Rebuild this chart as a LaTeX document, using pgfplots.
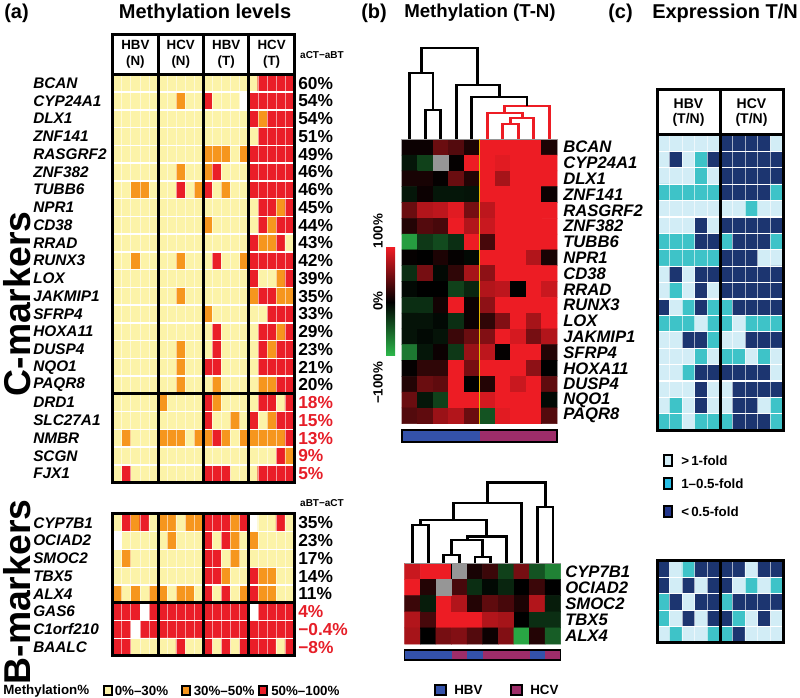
\documentclass[border=0pt]{standalone}
\usepackage{pgfplots}
\pgfplotsset{compat=1.18}
\usepackage{pgfplotstable}
\usepackage{fontspec}
\setmainfont{Liberation Sans}

\definecolor{mY}{RGB}{252,243,168}
\definecolor{mO}{RGB}{246,150,30}
\definecolor{mR}{RGB}{234,30,40}
\definecolor{eL}{RGB}{210,237,246}
\definecolor{eT}{RGB}{62,195,200}
\definecolor{eLeg}{RGB}{40,190,230}
\definecolor{eN}{RGB}{28,52,112}
\definecolor{eNleg}{RGB}{35,55,140}
\definecolor{hbv}{RGB}{52,82,170}
\definecolor{hcv}{RGB}{158,45,105}
\definecolor{pred}{RGB}{230,30,40}
\definecolor{dred}{RGB}{237,28,36}
\definecolor{lgreen}{RGB}{45,185,75}
\definecolor{ylw}{RGB}{225,185,0}
\definecolor{dgray}{RGB}{150,150,150}

\newcommand\titlefont{\fontsize{15}{18}\selectfont\bfseries}
\newcommand\titlefontb{\fontsize{14}{17}\selectfont\bfseries}
\newcommand\genefont{\fontsize{11.5}{14}\selectfont\bfseries\itshape}
\newcommand\genefontb{\fontsize{12.5}{14}\selectfont\bfseries\itshape}
\newcommand\pctfont{\fontsize{13}{15}\selectfont\bfseries}
\newcommand\hdfont{\fontsize{10}{12}\selectfont\bfseries}
\newcommand\legfont{\fontsize{10}{12}\selectfont\bfseries}

\pgfplotsset{pix/.style={x=0.75pt, y=0.75pt, y dir=reverse,
  xmin=0, xmax=800, ymin=0, ymax=698, hide axis, clip=false,
  anchor=south west, at={(0pt,0pt)}},
  dend/.style={black, line width=2.1pt},
  dendr/.style={dred, line width=2.1pt}}

% (a) methylation class: 0 = 0-30%, 1 = 30-50%, 2 = 50-100%, 3 = no data
% columns: HBV(N) x5, HCV(N) x5, HBV(T) x5, HCV(T) x5
\pgfplotstableread[row sep=\\]{c\\
0\\0\\0\\0\\0\\ 0\\0\\0\\0\\0\\ 0\\0\\0\\0\\0\\ 0\\2\\2\\2\\2\\
0\\0\\0\\0\\0\\ 0\\0\\1\\0\\0\\ 2\\0\\0\\0\\3\\ 2\\2\\2\\2\\2\\
0\\0\\0\\0\\0\\ 0\\0\\0\\0\\0\\ 0\\0\\0\\0\\0\\ 2\\1\\2\\2\\2\\
0\\0\\0\\0\\0\\ 0\\0\\0\\0\\0\\ 0\\0\\0\\0\\0\\ 0\\2\\2\\2\\2\\
0\\0\\0\\0\\0\\ 0\\0\\0\\0\\0\\ 1\\1\\1\\0\\1\\ 2\\2\\2\\2\\2\\
0\\0\\0\\0\\0\\ 0\\0\\1\\0\\0\\ 1\\2\\0\\0\\0\\ 2\\2\\2\\2\\2\\
0\\0\\1\\1\\0\\ 0\\0\\2\\0\\1\\ 2\\0\\1\\0\\0\\ 2\\2\\2\\2\\2\\
0\\0\\0\\0\\0\\ 0\\0\\0\\0\\0\\ 0\\0\\0\\0\\0\\ 0\\2\\2\\1\\2\\
0\\0\\0\\0\\0\\ 0\\0\\0\\0\\0\\ 1\\0\\0\\0\\0\\ 0\\2\\1\\2\\2\\
0\\0\\0\\0\\0\\ 0\\0\\0\\0\\0\\ 0\\0\\0\\0\\0\\ 2\\1\\1\\2\\0\\
0\\0\\1\\0\\0\\ 0\\0\\1\\0\\0\\ 0\\2\\0\\0\\1\\ 2\\2\\2\\2\\2\\
0\\0\\0\\0\\0\\ 0\\0\\0\\0\\0\\ 0\\0\\0\\0\\0\\ 2\\0\\0\\1\\2\\
0\\0\\0\\0\\0\\ 0\\0\\1\\0\\0\\ 0\\0\\0\\0\\0\\ 1\\2\\2\\1\\1\\
0\\0\\0\\0\\0\\ 0\\0\\0\\0\\0\\ 1\\0\\0\\0\\0\\ 0\\0\\2\\2\\2\\
0\\0\\0\\0\\0\\ 0\\0\\0\\0\\0\\ 0\\2\\0\\0\\0\\ 0\\2\\2\\1\\2\\
0\\0\\0\\0\\0\\ 0\\0\\1\\0\\0\\ 0\\2\\0\\0\\0\\ 0\\2\\1\\2\\2\\
0\\0\\0\\0\\0\\ 0\\0\\1\\0\\0\\ 2\\2\\0\\0\\0\\ 0\\2\\2\\2\\2\\
0\\0\\0\\0\\0\\ 0\\0\\1\\0\\0\\ 0\\1\\0\\0\\0\\ 0\\1\\1\\2\\2\\
0\\0\\0\\0\\0\\ 1\\0\\0\\0\\0\\ 2\\1\\0\\0\\0\\ 0\\2\\2\\0\\2\\
0\\0\\0\\0\\0\\ 0\\0\\0\\0\\0\\ 2\\0\\0\\1\\0\\ 2\\0\\1\\2\\2\\
0\\1\\0\\0\\0\\ 1\\1\\1\\0\\1\\ 1\\2\\1\\0\\1\\ 1\\1\\1\\1\\2\\
0\\0\\0\\0\\0\\ 0\\0\\0\\0\\0\\ 0\\0\\0\\0\\0\\ 0\\0\\0\\2\\1\\
0\\2\\0\\0\\0\\ 0\\0\\0\\0\\0\\ 2\\2\\2\\0\\0\\ 0\\2\\2\\2\\2\\
}\methC

\pgfplotstableread[row sep=\\]{c\\
0\\2\\1\\2\\0\\ 1\\1\\0\\1\\1\\ 2\\2\\2\\1\\2\\ 3\\0\\0\\2\\0\\
3\\0\\0\\0\\0\\ 0\\1\\0\\0\\0\\ 2\\0\\2\\1\\0\\ 1\\0\\0\\0\\0\\
0\\1\\0\\0\\0\\ 0\\0\\0\\0\\0\\ 2\\2\\0\\1\\0\\ 0\\0\\0\\0\\0\\
0\\0\\0\\0\\0\\ 0\\0\\0\\0\\0\\ 2\\2\\1\\0\\0\\ 2\\1\\1\\0\\0\\
1\\0\\1\\0\\1\\ 1\\0\\1\\1\\0\\ 2\\0\\2\\0\\1\\ 2\\1\\1\\0\\0\\
2\\2\\2\\3\\2\\ 2\\2\\2\\2\\2\\ 2\\2\\2\\2\\2\\ 3\\2\\2\\2\\2\\
2\\2\\3\\2\\2\\ 2\\2\\2\\2\\2\\ 2\\2\\2\\2\\2\\ 2\\2\\2\\2\\2\\
2\\2\\0\\0\\0\\ 0\\0\\2\\0\\0\\ 2\\0\\2\\0\\2\\ 2\\2\\2\\0\\2\\
}\methB

% (c) expression class: 4 = >1-fold, 5 = 1-0.5-fold, 6 = <0.5-fold
\pgfplotstableread[row sep=\\]{c\\
4\\4\\4\\4\\4\\ 6\\6\\6\\6\\4\\
4\\6\\4\\5\\6\\ 6\\6\\6\\6\\6\\
4\\4\\4\\5\\4\\ 6\\6\\6\\6\\6\\
5\\5\\5\\5\\5\\ 6\\6\\6\\6\\5\\
4\\4\\4\\4\\4\\ 4\\4\\5\\4\\4\\
4\\4\\4\\6\\4\\ 6\\6\\6\\6\\6\\
5\\5\\5\\6\\6\\ 5\\6\\6\\6\\5\\
5\\5\\5\\5\\5\\ 6\\6\\6\\4\\4\\
4\\6\\4\\6\\6\\ 6\\6\\6\\6\\6\\
4\\5\\4\\6\\4\\ 6\\6\\6\\6\\6\\
6\\4\\5\\6\\5\\ 5\\6\\6\\6\\6\\
5\\5\\5\\4\\5\\ 5\\4\\5\\5\\5\\
4\\4\\6\\6\\5\\ 4\\4\\6\\6\\6\\
4\\4\\4\\5\\4\\ 5\\5\\4\\5\\4\\
4\\4\\5\\6\\6\\ 6\\6\\6\\6\\4\\
4\\4\\4\\6\\4\\ 4\\6\\6\\6\\6\\
4\\5\\4\\6\\4\\ 4\\6\\6\\4\\5\\
5\\5\\4\\5\\5\\ 5\\6\\6\\6\\5\\
}\exprC

\pgfplotstableread[row sep=\\]{c\\
6\\4\\5\\6\\6\\ 6\\6\\4\\6\\6\\
6\\4\\6\\4\\6\\ 6\\4\\5\\4\\5\\
5\\6\\4\\6\\6\\ 5\\6\\6\\6\\6\\
5\\4\\6\\4\\6\\ 6\\5\\4\\6\\4\\
4\\5\\4\\4\\5\\ 5\\6\\4\\4\\4\\
}\exprB

% (b) methylation difference T-N, scaled -1 .. 1
\pgfplotstableread[row sep=\\]{c\\
0.05\\0.05\\0.45\\0.35\\0.12\\ 1\\1\\1\\1\\0.12\\
-0.12\\-0.35\\0\\0.02\\1\\ 1\\0.95\\1\\1\\1\\
0.1\\0.1\\0.02\\0.45\\0.15\\ 1\\0.7\\1\\1\\1\\
-0.12\\0.05\\-0.12\\-0.12\\-0.1\\ 1\\1\\1\\1\\0.05\\
0.45\\0.75\\0.8\\0.95\\0.5\\ 0.8\\1\\1\\1\\1\\
0.15\\0.35\\0.3\\1\\0.75\\ 0.85\\1\\1\\1\\1\\
-0.85\\-0.3\\-0.4\\-0.25\\1\\ 0.3\\1\\1\\1\\1\\
0.02\\0\\0.12\\0.02\\-0.05\\ 1\\1\\1\\0.75\\0.1\\
-0.25\\0.5\\-0.05\\0.2\\0.7\\ 0.6\\1\\1\\1\\1\\
-0.05\\0\\0\\-0.35\\-0.2\\ 0.75\\0.8\\0\\1\\0.85\\
-0.25\\-0.25\\0.08\\1\\0.05\\ 0.6\\1\\1\\1\\1\\
-0.1\\-0.1\\-0.05\\-0.25\\0.05\\ 0.2\\0.55\\1\\0.7\\1\\
-0.1\\-0.05\\-0.1\\0.25\\0.45\\ 0.55\\1\\0.9\\0.5\\0.75\\
-0.65\\-0.12\\0.05\\-0.3\\0.65\\ 0.8\\0.02\\1\\1\\0.15\\
0.02\\0.2\\0.2\\1\\0.5\\ 1\\1\\1\\0.6\\0\\
0.15\\0.45\\0.4\\1\\0\\ 0.15\\1\\0.85\\1\\0.4\\
0.45\\-0.12\\-0.35\\1\\1\\ 0.9\\1\\1\\1\\-0.05\\
0.35\\0.4\\0.65\\0.75\\0.45\\ -0.45\\0.95\\1\\1\\0.35\\
}\diffC

\pgfplotstableread[row sep=\\]{c\\
0.85\\1\\1\\0\\0.1\\ 0.25\\-0.35\\0.5\\-0.45\\-0.7\\
1\\0.15\\0\\0.3\\-0.25\\ -0.05\\-0.2\\0\\0.25\\0\\
0.25\\-0.15\\1\\0.75\\0.15\\ 0.4\\0.3\\0.12\\0.75\\-0.15\\
0.75\\0.3\\1\\1\\1\\ 0.75\\0.7\\0\\-0.25\\-0.25\\
0.7\\0\\0.5\\0.55\\0.35\\ 0.05\\0.55\\-0.9\\0.15\\-0.5\\
}\diffB

\begin{document}
\begin{tikzpicture}
\useasboundingbox (0pt,0pt) rectangle (600pt,523.5pt);

% ---------- discrete heatmaps (a) and (c)
\begin{axis}[pix,
  colormap={cat}{rgb255=(252,243,168) rgb255=(246,150,30) rgb255=(234,30,40) rgb255=(255,255,255) rgb255=(210,237,246) rgb255=(62,195,200) rgb255=(28,52,112)},
  point meta min=0, point meta max=6]
\addplot[matrix plot*, mesh/cols=20, point meta=explicit]
  table[x index=0, y index=0, x expr={117.24+9.08*mod(\coordindex,20)}, y expr={83.18+17.75*floor((\coordindex+0.5)/20)}, meta=c] {\methC};
\addplot[matrix plot*, mesh/cols=20, point meta=explicit]
  table[x index=0, y index=0, x expr={117.24+9.08*mod(\coordindex,20)}, y expr={522.88+17.75*floor((\coordindex+0.5)/20)}, meta=c] {\methB};
\addplot[matrix plot*, mesh/cols=10, point meta=explicit]
  table[x index=0, y index=0, x expr={663.3+12.6*mod(\coordindex,10)}, y expr={143.2+16.4*floor((\coordindex+0.5)/10)}, meta=c] {\exprC};
\addplot[matrix plot*, mesh/cols=10, point meta=explicit]
  table[x index=0, y index=0, x expr={663.3+12.6*mod(\coordindex,10)}, y expr={569.2+16.4*floor((\coordindex+0.5)/10)}, meta=c] {\exprB};
\end{axis}

% ---------- continuous heatmaps (b), dendrograms, group bars
\begin{axis}[pix,
  colormap={gbr}{rgb255=(45,185,75) rgb255=(0,0,0) rgb255=(237,28,36)},
  point meta min=-1, point meta max=1]
\addplot[matrix plot*, mesh/cols=10, point meta=explicit]
  table[x index=0, y index=0, x expr={409.75+15.5*mod(\coordindex,10)}, y expr={147.2+15.8*floor((\coordindex+0.5)/10)}, meta=c] {\diffC};
\addplot[matrix plot*, mesh/cols=10, point meta=explicit]
  table[x index=0, y index=0, x expr={412.5+15.6*mod(\coordindex,10)}, y expr={571.47+16.14*floor((\coordindex+0.5)/10)}, meta=c] {\diffB};
% missing values (grey)
\addplot[fill=dgray, draw=none] coordinates {(433,155.1) (448.5,155.1) (448.5,170.9) (433,170.9)} -- cycle;
\addplot[fill=dgray, draw=none] coordinates {(451.5,563.3) (467.1,563.3) (467.1,579.4) (451.5,579.4)} -- cycle;
\addplot[fill=dgray, draw=none] coordinates {(435.9,579.4) (451.5,579.4) (451.5,595.6) (435.9,595.6)} -- cycle;
% top dendrogram
\addplot[dend] coordinates {(425.25,139) (425.25,110) (440.75,110) (440.75,139)};
\addplot[dend] coordinates {(409.75,139) (409.75,73) (433,73) (433,110)};
\addplot[dendr] coordinates {(502.75,139) (502.75,124) (518.25,124) (518.25,139)};
\addplot[dendr] coordinates {(510.5,124) (510.5,118) (533.75,118) (533.75,139)};
\addplot[dendr] coordinates {(487.25,139) (487.25,113) (522.1,113) (522.1,118)};
\addplot[dendr] coordinates {(504.7,113) (504.7,106) (549.25,106) (549.25,139)};
\addplot[dend] coordinates {(471.75,139) (471.75,97) (527,97) (527,106)};
\addplot[dend] coordinates {(456.25,139) (456.25,85) (499.4,85) (499.4,97)};
\addplot[dend] coordinates {(421.4,73) (421.4,48) (477.8,48) (477.8,85)};
% bottom dendrogram
\addplot[dend] coordinates {(412.5,563) (412.5,525) (428.1,525) (428.1,563)};
\addplot[dend] coordinates {(443.7,563) (443.7,555) (459.3,555) (459.3,563)};
\addplot[dend] coordinates {(474.9,563) (474.9,557) (490.5,557) (490.5,563)};
\addplot[dend] coordinates {(451.5,555) (451.5,540) (482.7,540) (482.7,557)};
\addplot[dend] coordinates {(467.1,540) (467.1,536.5) (506.1,536.5) (506.1,563)};
\addplot[dend] coordinates {(420.3,525) (420.3,520) (486.6,520) (486.6,536.5)};
\addplot[dend] coordinates {(453.5,520) (453.5,503) (521.7,503) (521.7,563)};
\addplot[dend] coordinates {(537.3,563) (537.3,507) (552.9,507) (552.9,563)};
\addplot[dend] coordinates {(487.6,503) (487.6,482.7) (545.1,482.7) (545.1,507)};
% group bars
\addplot[fill=hbv, draw=none] coordinates {(402,430) (479.5,430) (479.5,442) (402,442)} -- cycle;
\addplot[fill=hcv, draw=none] coordinates {(479.5,430) (557,430) (557,442) (479.5,442)} -- cycle;
\addplot[fill=hbv, draw=none] coordinates {(404.7,650) (451.5,650) (451.5,660) (404.7,660)} -- cycle;
\addplot[fill=hcv, draw=none] coordinates {(451.5,650) (467.1,650) (467.1,660) (451.5,660)} -- cycle;
\addplot[fill=hbv, draw=none] coordinates {(467.1,650) (482.7,650) (482.7,660) (467.1,660)} -- cycle;
\addplot[fill=hcv, draw=none] coordinates {(482.7,650) (529.5,650) (529.5,660) (482.7,660)} -- cycle;
\addplot[fill=hbv, draw=none] coordinates {(529.5,650) (545.1,650) (545.1,660) (529.5,660)} -- cycle;
\addplot[fill=hcv, draw=none] coordinates {(545.1,650) (560.7,650) (560.7,660) (545.1,660)} -- cycle;
\end{axis}

% ---------- frames, grid lines and text (pixel coordinates)
\begin{scope}[shift={(0pt,523.5pt)}, x=0.75pt, y=-0.75pt]
% (a) cell separators
\foreach \k in {1,...,22} \draw[white, line width=1.1pt] (112.7,{74.3+17.75*\k}) -- (294.3,{74.3+17.75*\k});
\foreach \k in {1,...,7} \draw[white, line width=1.1pt] (112.7,{514+17.75*\k}) -- (294.3,{514+17.75*\k});
\foreach \k in {1,...,19} {
  \draw[white, opacity=0.55, line width=0.6pt] ({112.7+9.08*\k},74.3) -- ({112.7+9.08*\k},483);
  \draw[white, opacity=0.55, line width=0.6pt] ({112.7+9.08*\k},514) -- ({112.7+9.08*\k},656);
}
% (a) frames
\fill[white] (112.7,35) rectangle (294.3,74.3);
\foreach \x in {158.1,203.5,248.9} {
  \draw[line width=2.25pt] (\x,35) -- (\x,483);
  \draw[line width=2.25pt] (\x,514) -- (\x,656);
}
\draw[line width=2.25pt] (112.7,35) rectangle (294.3,483);
\draw[line width=2.25pt] (112.7,74.3) -- (294.3,74.3);
\draw[line width=2.25pt] (112.7,393.8) -- (294.3,393.8);
\draw[line width=2.25pt] (112.7,514) rectangle (294.3,656);
\draw[line width=2.25pt] (112.7,602.75) -- (294.3,602.75);

% (c) cell separators and frames
\foreach \k in {1,...,17} \draw[white, line width=0.9pt] (657,{135+16.4*\k}) -- (783,{135+16.4*\k});
\foreach \k in {1,...,4} \draw[white, line width=0.9pt] (657,{561+16.4*\k}) -- (783,{561+16.4*\k});
\foreach \k in {1,2,3,4,6,7,8,9} {
  \draw[white, opacity=0.6, line width=0.7pt] ({657+12.6*\k},135) -- ({657+12.6*\k},430.2);
  \draw[white, opacity=0.6, line width=0.7pt] ({657+12.6*\k},561) -- ({657+12.6*\k},643);
}
\fill[white] (657,90) rectangle (783,135);
\draw[line width=2.25pt] (657,90) rectangle (783,430.2);
\draw[line width=2.25pt] (657,135) -- (783,135);
\draw[line width=2.25pt] (720,90) -- (720,430.2);
\draw[line width=2.25pt] (657,561) rectangle (783,643);
\draw[line width=2.25pt] (720,561) -- (720,643);

% (b) decorations
\draw[dgray, line width=1.1pt] (402,139.3) -- (557,139.3);
\draw[dgray, line width=1.1pt] (404.7,563.3) -- (560.7,563.3);
\draw[ylw, line width=0.9pt] (479.5,139.3) -- (479.5,423.7);
\draw[line width=0.9pt] (402,430) rectangle (557,442);
\draw[line width=0.9pt] (404.7,650) rectangle (560.7,660);
\shade[top color=dred, bottom color=lgreen, middle color=black] (386,248) rectangle (395,356);
\node[rotate=90, font=\legfont] at (378,231) {100\%};
\node[rotate=90, font=\legfont] at (378,301) {0\%};
\node[rotate=90, font=\legfont] at (378,383) {−100\%};

% titles
\node[anchor=west, inner sep=0, font=\titlefont] at (4,13) {(a)};
\node[font=\titlefont, inner sep=0] at (205,13) {Methylation levels};
\node[anchor=west, inner sep=0, font=\titlefont] at (361,13) {(b)};
\node[anchor=west, inner sep=0, font=\titlefontb] at (404,13) {Methylation (T-N)};
\node[anchor=west, inner sep=0, font=\titlefont] at (608,13) {(c)};
\node[anchor=west, inner sep=0, font=\titlefont] at (652,13) {Expression T/N};

% (a) headers
\node[align=center, font=\hdfont] at (135.4,54.6) {HBV\\(N)};
\node[align=center, font=\hdfont] at (180.8,54.6) {HCV\\(N)};
\node[align=center, font=\hdfont] at (226.2,54.6) {HBV\\(T)};
\node[align=center, font=\hdfont] at (271.6,54.6) {HCV\\(T)};
\node[font=\fontsize{7.5}{9}\selectfont\bfseries] at (322,55) {aCT−aBT};
\node[font=\fontsize{7.5}{9}\selectfont\bfseries] at (322,503) {aBT−aCT};

% (c) headers
\node[align=center, font=\fontsize{10.5}{11.5}\selectfont\bfseries] at (688.5,112.5) {HBV\\(T/N)};
\node[align=center, font=\fontsize{10.5}{11.5}\selectfont\bfseries] at (751.5,112.5) {HCV\\(T/N)};

% (a) gene names
\foreach \g [count=\i from 0] in {BCAN,CYP24A1,DLX1,ZNF141,RASGRF2,ZNF382,TUBB6,NPR1,CD38,RRAD,RUNX3,LOX,JAKMIP1,SFRP4,HOXA11,DUSP4,NQO1,PAQR8,DRD1,SLC27A1,NMBR,SCGN,FJX1}
  \node[anchor=west, inner sep=0, font=\genefont] at (33,{83.18+17.75*\i}) {\g};
\foreach \g [count=\i from 0] in {CYP7B1,OCIAD2,SMOC2,TBX5,ALX4,GAS6,C1orf210,BAALC}
  \node[anchor=west, inner sep=0, font=\genefont] at (33,{522.88+17.75*\i}) {\g};
% (a) percentages
\foreach \p [count=\i from 0] in {60,54,54,51,49,46,46,45,44,43,42,39,35,33,29,23,21,20}
  \node[anchor=west, inner sep=0, font=\pctfont] at (298,{83.18+17.75*\i}) {\p\%};
\foreach \p [count=\i from 18] in {18,15,13,9,5}
  \node[anchor=west, inner sep=0, font=\pctfont, text=pred] at (298,{83.18+17.75*\i}) {\p\%};
\foreach \p [count=\i from 0] in {35,23,17,14,11}
  \node[anchor=west, inner sep=0, font=\pctfont] at (298,{522.88+17.75*\i}) {\p\%};
\foreach \p [count=\i from 5] in {4,−0.4,−8}
  \node[anchor=west, inner sep=0, font=\pctfont, text=pred] at (298,{522.88+17.75*\i}) {\p\%};

% marker group labels
\node[rotate=90, font=\fontsize{28}{32}\selectfont\bfseries] at (17.5,304) {C-markers};
\node[rotate=90, font=\fontsize{28}{32}\selectfont\bfseries] at (17.5,592) {B-markers};

% (b) gene names
\foreach \g [count=\i from 0] in {BCAN,CYP24A1,DLX1,ZNF141,RASGRF2,ZNF382,TUBB6,NPR1,CD38,RRAD,RUNX3,LOX,JAKMIP1,SFRP4,HOXA11,DUSP4,NQO1,PAQR8}
  \node[anchor=west, inner sep=0, font=\genefontb] at (563,{147.2+15.8*\i}) {\g};
\foreach \g [count=\i from 0] in {CYP7B1,OCIAD2,SMOC2,TBX5,ALX4}
  \node[anchor=west, inner sep=0, font=\genefontb] at (565,{571.47+16.14*\i}) {\g};

% legends
\node[anchor=west, inner sep=0, font=\legfont] at (3,691) {Methylation\%};
\draw[line width=1.5pt, fill=mY] (103.5,686.5) rectangle (111.5,695.5);
\node[anchor=west, inner sep=0, font=\legfont] at (114.5,691) {0\%--30\%};
\draw[line width=1.5pt, fill=mO] (182,686.5) rectangle (190,695.5);
\node[anchor=west, inner sep=0, font=\legfont] at (193.5,691) {30\%--50\%};
\draw[line width=1.5pt, fill=mR] (259,686.5) rectangle (267,695.5);
\node[anchor=west, inner sep=0, font=\legfont] at (271,691) {50\%--100\%};

\draw[line width=0.9pt, fill=hbv] (435,685) rectangle (446,695);
\node[anchor=west, inner sep=0, font=\legfont] at (454,690) {HBV};
\draw[line width=0.9pt, fill=hcv] (511,685) rectangle (522,695);
\node[anchor=west, inner sep=0, font=\legfont] at (530,690) {HCV};

\draw[line width=1.5pt, fill=eL] (664,455.5) rectangle (671.5,466.5);
\node[anchor=west, inner sep=0, font=\legfont] at (681,461) {>\,1-fold};
\draw[line width=1.5pt, fill=eLeg] (664,478.5) rectangle (671.5,489.5);
\node[anchor=west, inner sep=0, font=\legfont] at (681,484) {1--0.5-fold};
\draw[line width=1.5pt, fill=eNleg] (664,506) rectangle (671.5,517);
\node[anchor=west, inner sep=0, font=\legfont] at (681,511.5) {<\,0.5-fold};
\end{scope}
\end{tikzpicture}
\end{document}
